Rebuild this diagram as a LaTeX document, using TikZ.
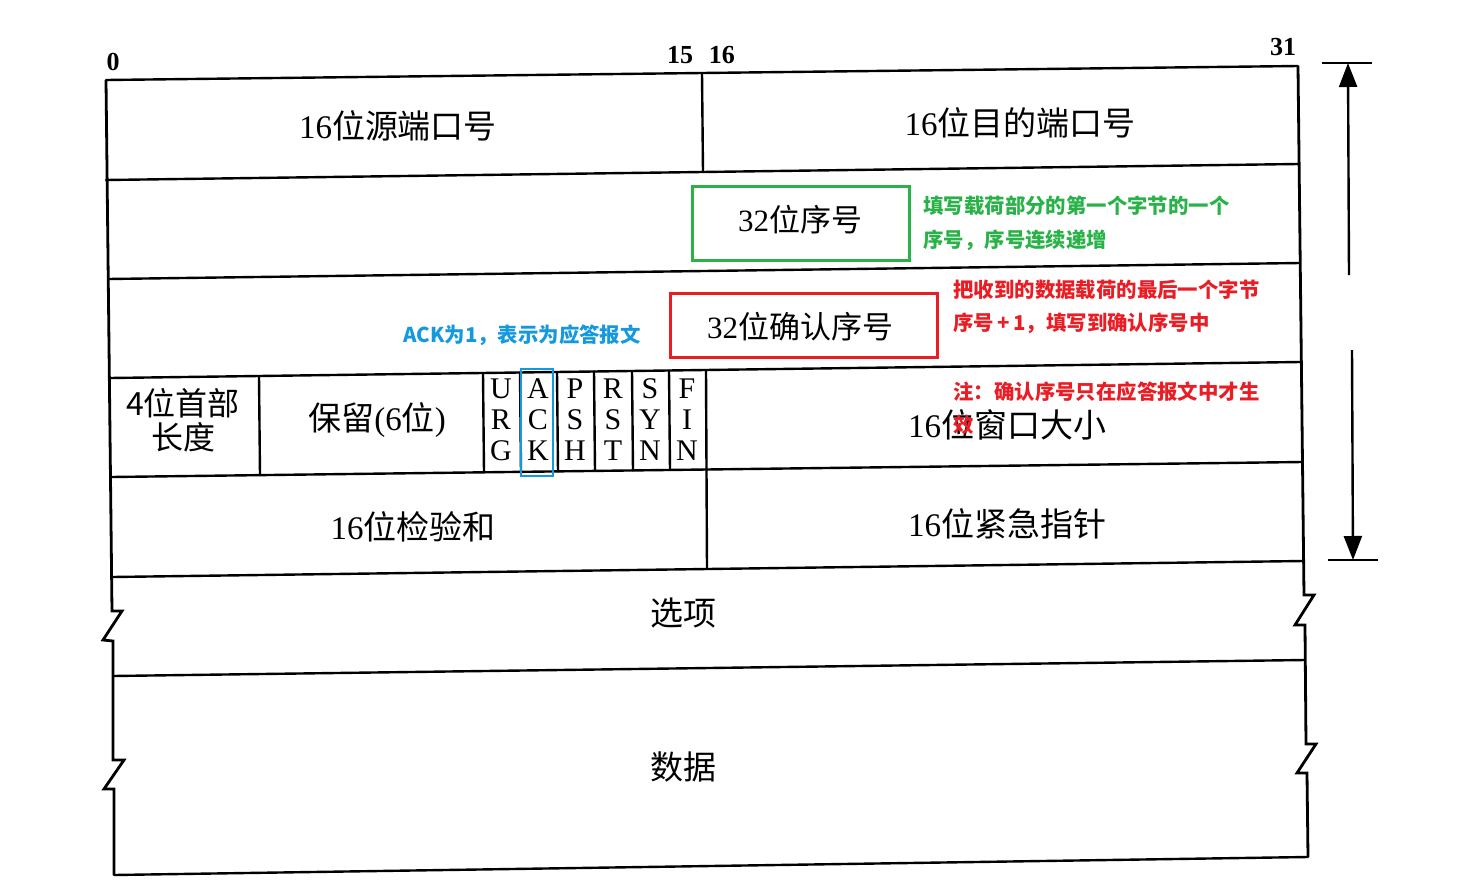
\documentclass[tikz,border=0pt]{standalone}
\usepackage{fontspec}
\setmainfont{Liberation Serif}
\newfontfamily\cjk{Noto Sans CJK SC}
\usetikzlibrary{arrows.meta}
\definecolor{anngreen}{RGB}{40,178,72}
\definecolor{annred}{RGB}{234,28,36}
\definecolor{annblue}{RGB}{20,152,222}
\begin{document}
\begin{tikzpicture}[x=0.5pt,y=-0.5pt,
  tbl/.style={line width=1.2pt, line join=miter, line cap=round},
  border/.style={line width=1.4pt, line join=miter},
  lbl/.style={font=\fontsize{16.5}{19}\selectfont, inner sep=0pt, align=center},
  bitnum/.style={font=\bfseries\fontsize{13}{14}\selectfont, inner sep=0pt},
  flag/.style={font=\fontsize{15}{15.5}\selectfont, align=center, inner sep=0pt},
  ann/.style={font=\cjk\bfseries\fontsize{10.2}{17}\selectfont, align=left, anchor=west, inner sep=0pt},
  dimarrow/.style={line width=1.2pt, -{Triangle[length=12pt,width=9pt]}},
]
\useasboundingbox (0,0) rectangle (1464,895);

% horizontal row lines
\draw[tbl] (106,80) -- (1298,66);
\draw[tbl] (106,180) -- (1298,164);
\draw[tbl] (108,279) -- (1300,263);
\draw[tbl] (110,378) -- (1300,362);
\draw[tbl] (111,477) -- (1302,462);
\draw[tbl] (112,577) -- (1303,561);
\draw[tbl] (113,676) -- (1305,660);
\draw[tbl] (114,875) -- (1308,857);

% outer borders with break marks
\draw[border] (106,80) -- (112,611) -- (122,611) -- (103,640) -- (113,641)
  -- (113,760) -- (124,760) -- (104,789) -- (114,789) -- (114,875);
\draw[border] (1298,66) -- (1304,595) -- (1314,595) -- (1295,625) -- (1305,625)
  -- (1306,744) -- (1316,744) -- (1297,773) -- (1307,773) -- (1308,857);

% vertical dividers
\draw[tbl] (702,73) -- (703,172);
\draw[tbl] (259,376) -- (260,475);
\draw[tbl] (483,373) -- (484,472);
\draw[tbl] (520,372.5) -- (521,472);
\draw[tbl] (557,372) -- (558,471.5);
\draw[tbl] (594,371.5) -- (595,471);
\draw[tbl] (632,371) -- (633,470.5);
\draw[tbl] (669,370.5) -- (670,470);
\draw[tbl] (706,370) -- (707,569);

% bit numbers
\node[bitnum] (b0) at (113,62) {0};
\node[bitnum] (b15) at (701,55) {15\hspace{0.6em}16};
\node[bitnum] (b31) at (1283,47) {31};

% field labels
\node[lbl] (src) at (398,126) {16{\cjk 位源端口号}};
\node[lbl] (dst) at (1020,123) {16{\cjk 位目的端口号}};
\node[lbl, font=\fontsize{15.5}{18}\selectfont] (seq) at (800,220) {32{\cjk 位序号}};
\node[lbl, font=\fontsize{15.5}{18}\selectfont] (ack) at (800,327) {32{\cjk 位确认序号}};
\node[lbl, font=\fontsize{16}{17}\selectfont\cjk] (hlen) at (183,420) {4位首部\\长度};
\node[lbl] (rsv) at (377,420) {{\cjk 保留}(6{\cjk 位})};
\node[flag] (urg) at (501,420) {U\\R\\G};
\node[flag] (ackf) at (538,420) {A\\C\\K};
\node[flag] (psh) at (575,420) {P\\S\\H};
\node[flag] (rst) at (613,420) {R\\S\\T};
\node[flag] (syn) at (650,420) {S\\Y\\N};
\node[flag] (fin) at (687,420) {F\\I\\N};
\node[lbl] (win) at (1007,425) {16{\cjk 位窗口大小}};
\node[lbl] (chk) at (413,527) {16{\cjk 位检验和}};
\node[lbl] (urgp) at (1007,524) {16{\cjk 位紧急指针}};
\node[lbl, font=\fontsize{16.5}{19}\selectfont\cjk] (opt) at (683,613) {选项};
\node[lbl, font=\fontsize{16.5}{19}\selectfont\cjk] (data) at (683,767) {数据};

% highlight boxes
\draw[anngreen, line width=1.5pt] (692,186) rectangle (909,260);
\draw[annred, line width=1.5pt] (670,293) rectangle (937,357);
\draw[annblue, line width=1.3pt] (521,369) rectangle (553,476);

% annotations
\node[ann, text=anngreen] (noteseq) at (923,223) {填写载荷部分的第一个字节的一个\\序号，序号连续递增};
\node[ann, text=annred, font=\cjk\bfseries\fontsize{10.2}{16.5}\selectfont] (noteack) at (953,306.5) {把收到的数据载荷的最后一个字节\\序号\,+\,1，填写到确认序号中};
\node[ann, text=annblue] (noteflag) at (403,335) {ACK为1，表示为应答报文};
\node[ann, text=annred, font=\cjk\bfseries\fontsize{10.2}{16.5}\selectfont] (notevalid) at (953,408.5) {注：确认序号只在应答报文中才生\\效};

% header-length dimension arrow
\coordinate (ttl) at (1322,63);
\coordinate (ttr) at (1372,63);
\coordinate (atop) at (1348,63);
\coordinate (astart) at (1349,275);
\coordinate (bstart) at (1352,350);
\coordinate (abot) at (1353,560);
\coordinate (btl) at (1328,560);
\coordinate (btr) at (1378,560);
\draw[line width=1.3pt] (ttl) -- (ttr);
\draw[line width=1.3pt] (btl) -- (btr);
\draw[dimarrow] (astart) -- (atop);
\draw[dimarrow] (bstart) -- (abot);
\end{tikzpicture}
\end{document}
